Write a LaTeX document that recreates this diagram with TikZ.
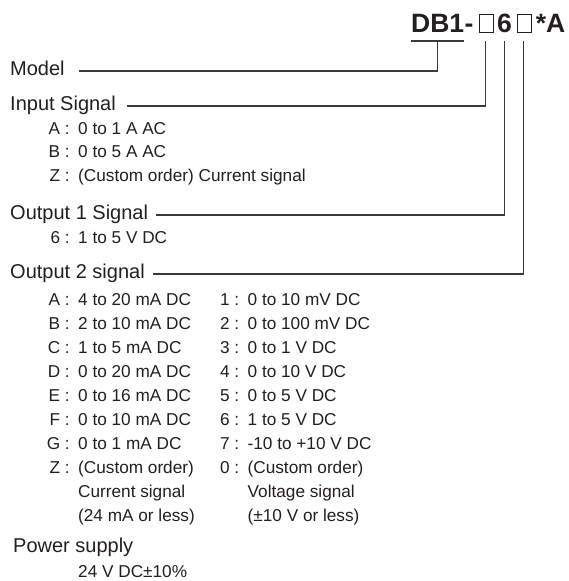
\documentclass[tikz,border=0pt]{standalone}
\usepackage{fontspec}
\setmainfont{Liberation Sans}
\usetikzlibrary{positioning,calc}
\definecolor{Ink}{HTML}{231F20}
\definecolor{Wire}{HTML}{3A3A3A}

% letter, colon, then the range
\newcommand\codeline[2]{\makebox[12pt][r]{#1}\makebox[14pt][c]{:}\kern4pt#2}
\newcommand\sqglyph{\kern5pt{\setlength\fboxsep{0pt}\setlength\fboxrule{0.9pt}\fbox{\rule{0pt}{17.5pt}\kern13.2pt}}\kern3pt}

\begin{document}
\begin{tikzpicture}[x=1pt,y=-1pt,
  code/.style={anchor=base west,inner sep=0pt,text=Ink,font=\fontsize{26.5}{30}\selectfont\bfseries},
  head/.style={anchor=base west,inner sep=0pt,text=Ink,font=\fontsize{20}{24}\selectfont},
  entry/.style={anchor=base west,inner sep=0pt,text=Ink,font=\fontsize{17.2}{20}\selectfont},
  wire/.style={Wire,line width=1.1pt}]
  \useasboundingbox (0,0) rectangle (568,581);

  % model code
  \node[code] (tdb) at (411,32) {DB1};
  \node[code] (tdash) at (tdb.base east) {-};
  \node[code] (tbox1) at (tdash.base east) {\sqglyph};
  \node[code] (tsix) at (tbox1.base east) {6};
  \node[code] (tbox2) at (tsix.base east) {\sqglyph};
  \node[code] (tend) at (tbox2.base east) {*A};

  % headings
  \node[head] (model) at (10,75.5) {Model};
  \node[head] (inp) at (10,110.5) {Input Signal};
  \node[head] (outa) at (10,219.5) {Output 1 Signal};
  \node[head] (outb) at (10,278.5) {Output 2 signal};
  \node[head] (power) at (13,552) {Power supply};

  % input signal
  \foreach \k/\t [count=\i] in {A/0 to 1 A AC,B/0 to 5 A AC,Z/{(Custom order) Current signal}}{
    \node[entry] (in\k) at (48,{110.5+23.5*\i}) {\codeline{\k}{\t}};
  }
  % output 1
  \node[entry] (oneSix) at (48,243.5) {\codeline{6}{1 to 5 V DC}};
  % output 2, current
  \foreach \k/\t [count=\i] in {A/4 to 20 mA DC,B/2 to 10 mA DC,C/1 to 5 mA DC,D/0 to 20 mA DC,
      E/0 to 16 mA DC,F/0 to 10 mA DC,G/0 to 1 mA DC,Z/(Custom order)}{
    \node[entry] (cur\k) at (48,{281+24*\i}) {\codeline{\k}{\t}};
  }
  % output 2, voltage
  \foreach \k/\t [count=\i] in {1/0 to 10 mV DC,2/0 to 100 mV DC,3/0 to 1 V DC,4/0 to 10 V DC,
      5/0 to 5 V DC,6/1 to 5 V DC,7/-10 to +10 V DC,0/(Custom order)}{
    \node[entry] (vol\k) at (217.5,{281+24*\i}) {\codeline{\k}{\t}};
  }
  \node[entry] (curNote) at (78,497) {Current signal};
  \node[entry] (curMax) at (78,521) {(24 mA or less)};
  \node[entry] (volNote) at (247.5,497) {Voltage signal};
  \node[entry] (volMax) at (247.5,521) {(±10 V or less)};
  \node[entry] (supply) at (78,577) {24 V DC±10\%};

  % leaders
  \draw[wire] ([yshift=-9pt]tdb.base west) -- ([yshift=-9pt]tdb.base east);
  \draw[wire] ([shift={(14pt,4.5pt)}]model.base east) -| ([yshift=-9pt]tdb.base);
  \draw[wire] ([shift={(11pt,4.5pt)}]inp.base east) -| ([yshift=-9pt]tbox1.base);
  \draw[wire] ([shift={(8pt,4.5pt)}]outa.base east) -| ([yshift=-9pt]tsix.base);
  \draw[wire] ([shift={(8pt,4.5pt)}]outb.base east) -| ([yshift=-9pt]tbox2.base);
\end{tikzpicture}
\end{document}
